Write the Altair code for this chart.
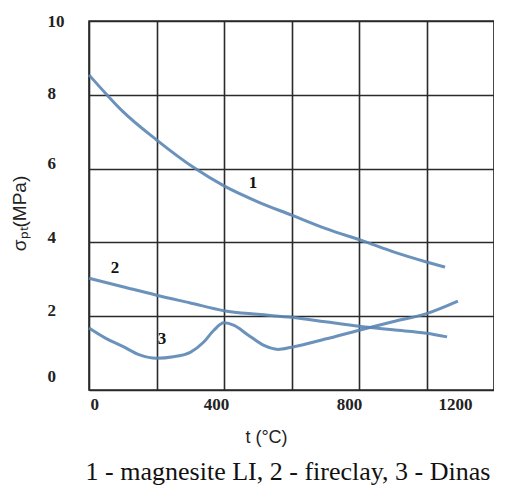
import altair as alt
import pandas as pd

# Curve 1 - magnesite LI
t1 = [0, 53, 100, 200, 315, 400, 500, 600, 700, 824, 900, 1000, 1055]
v1 = [8.54, 8.0, 7.55, 6.78, 6.0, 5.53, 5.1, 4.74, 4.38, 4.0, 3.75, 3.47, 3.33]
# Curve 2 - fireclay
t2 = [0, 100, 200, 300, 400, 500, 600, 700, 800, 900, 1000, 1061]
v2 = [3.03, 2.8, 2.57, 2.36, 2.15, 2.05, 1.97, 1.85, 1.73, 1.63, 1.54, 1.44]
# Curve 3 - Dinas
t3 = [0, 50, 100, 150, 200, 250, 300, 340, 370, 400, 430, 470, 520, 560, 600, 700, 800, 900, 1000, 1093]
v3 = [1.68, 1.4, 1.18, 0.95, 0.86, 0.9, 1.02, 1.3, 1.62, 1.82, 1.75, 1.5, 1.2, 1.1, 1.16, 1.38, 1.62, 1.85, 2.07, 2.41]

label_text = ["1", "2", "3"]
label_t = [486, 77, 216]
label_v = [5.61, 3.31, 1.38]

caption = "1 - magnesite LI, 2 - fireclay, 3 - Dinas"

rows = []
for s, ts, vs in (("1", t1, v1), ("2", t2, v2), ("3", t3, v3)):
    for t, v in zip(ts, vs):
        rows.append({"series": s, "t": t, "v": v})
df = pd.DataFrame(rows)
lab = pd.DataFrame({"text": label_text, "t": label_t, "v": label_v})

SERIF = "Liberation Serif, Times New Roman, serif"
SANS = "Liberation Sans, Arial, sans-serif"

xs = alt.Scale(domain=[0, 1200], nice=False, zero=False)
ys = alt.Scale(domain=[0, 10], nice=False, zero=False)

x_axis = alt.Axis(
    values=[0, 200, 400, 600, 800, 1000, 1200],
    format="d",
    labelExpr="datum.value % 400 == 0 ? datum.label : ''",
    labelOffset=alt.ExprRef(expr="datum.value == 0 ? 1 : datum.value == 400 ? -8 : datum.value == 800 ? -10 : -22"),
    labelFont=SERIF, labelFontSize=17, labelFontWeight="bold", labelColor="#222",
    labelPadding=6, ticks=False, tickSize=0, domain=False,
    grid=True, gridColor="#2a2a2a", gridWidth=1.6, gridOpacity=1,
    title="t (°C)", titleFont=SANS, titleFontSize=18, titleFontWeight="normal",
    titleColor="#222", titleX=177, titleY=47, titleBaseline="middle",
)
y_axis = alt.Axis(
    values=[0, 2, 4, 6, 8, 10],
    labelOffset=alt.ExprRef(expr="datum.value == 0 ? -14 : datum.value == 2 ? -6 : datum.value == 4 ? -5 : datum.value == 6 ? -5 : datum.value == 8 ? -1 : 0"),
    labelAlign="left", labelPadding=42,
    labelFont=SERIF, labelFontSize=17, labelFontWeight="bold", labelColor="#222",
    ticks=False, tickSize=0, domain=False,
    grid=True, gridColor="#2a2a2a", gridWidth=1.6, gridOpacity=1,
    title="σₚₜ(MPa)", titleFont=SANS, titleFontSize=19, titleFontWeight="normal",
    titleColor="#222", titleX=-70, titleY=192, titleBaseline="middle", titleAngle=270,
)

lines = alt.Chart(df).mark_line(
    interpolate="monotone", color="#5b86b4", strokeWidth=3, opacity=0.9, clip=False
).encode(
    x=alt.X("t:Q", scale=xs, axis=x_axis),
    y=alt.Y("v:Q", scale=ys, axis=y_axis),
    detail="series:N",
)

labels = alt.Chart(lab).mark_text(
    font=SERIF, fontSize=17, fontWeight="bold", color="#111"
).encode(
    x=alt.X("t:Q", scale=xs),
    y=alt.Y("v:Q", scale=ys),
    text="text:N",
)

border = alt.Chart(pd.DataFrame({"a": [0]})).mark_rect(
    fill=None, stroke="#2a2a2a", strokeWidth=1.6
).encode(
    x=alt.value(0), x2=alt.value(405), y=alt.value(0), y2=alt.value(369)
)

cap = alt.Chart(pd.DataFrame({"c": [caption]})).mark_text(
    font=SERIF, fontSize=26, color="#111", baseline="middle"
).encode(
    x=alt.value(199), y=alt.value(451), text="c:N"
)

chart = alt.layer(border, lines, labels, cap).properties(
    width=405, height=369,
    autosize=alt.AutoSizeParams(type="none"),
    padding={"left": 81, "top": 13, "right": 0, "bottom": 95},
).configure_view(stroke=None)

chart.save("out.html", embed_options={"renderer": "svg", "actions": False})
